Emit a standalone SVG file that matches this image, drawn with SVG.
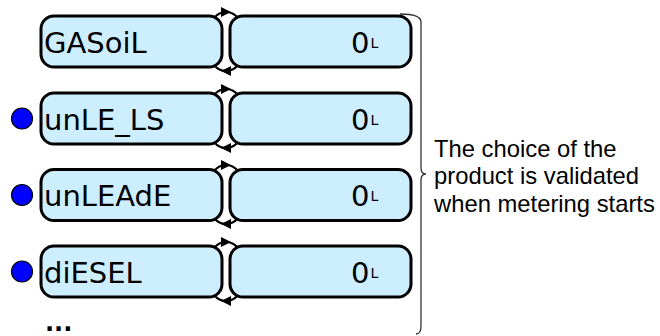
<svg xmlns="http://www.w3.org/2000/svg" width="660" height="336" viewBox="0 0 660 336">
<style>
.box{fill:#cceeff;stroke:#000;stroke-width:3}
.lbl{font-family:"DejaVu Sans",sans-serif;font-size:29px;fill:#000}
.unit{font-size:14px}
.dot{fill:#0000ff;stroke:#000;stroke-width:1.2}
.con{fill:none;stroke:#000;stroke-width:2}
.note{font-family:"Liberation Sans",Arial,sans-serif;font-size:23.8px;fill:#000}
.brace{fill:none;stroke:#333;stroke-width:1.3}
</style>
<defs>
<marker id="ah" viewBox="0 0 10 10" refX="5" refY="5" markerWidth="11" markerHeight="10" markerUnits="userSpaceOnUse" orient="auto">
<path d="M0,0 L10,5 L0,10 z" fill="#000"/>
</marker>
</defs>
<rect width="660" height="336" fill="#fff"/>
<g id="connectors">
<path class="con" marker-mid="url(#ah)" d="M214,18 Q219,12 226,12 Q233,12 238,18"/>
<path class="con" marker-mid="url(#ah)" d="M238,65 Q233,71 226,71 Q219,71 214,65"/>
<path class="con" marker-mid="url(#ah)" d="M214,95 Q219,89 226,89 Q233,89 238,95"/>
<path class="con" marker-mid="url(#ah)" d="M238,142 Q233,148 226,148 Q219,148 214,142"/>
<path class="con" marker-mid="url(#ah)" d="M214,171 Q219,165 226,165 Q233,165 238,171"/>
<path class="con" marker-mid="url(#ah)" d="M238,218 Q233,224 226,224 Q219,224 214,218"/>
<path class="con" marker-mid="url(#ah)" d="M214,248 Q219,242 226,242 Q233,242 238,248"/>
<path class="con" marker-mid="url(#ah)" d="M238,295 Q233,301 226,301 Q219,301 214,295"/>
</g>
<g id="row-gasoil">
<rect class="box" x="41" y="16" width="181" height="51" rx="13"/>
<rect class="box" x="230" y="16" width="181" height="51" rx="13"/>
<text class="lbl" x="44" y="52.5">GASoiL</text>
<text class="lbl" x="351" y="52.5">0<tspan class="unit" dx="1" dy="-5">L</tspan></text>
</g>
<g id="row-unle-ls">
<circle class="dot" cx="22" cy="118.5" r="10.5"/>
<rect class="box" x="41" y="93" width="181" height="51" rx="13"/>
<rect class="box" x="230" y="93" width="181" height="51" rx="13"/>
<text class="lbl" x="44" y="129.5">unLE_LS</text>
<text class="lbl" x="351" y="129.5">0<tspan class="unit" dx="1" dy="-5">L</tspan></text>
</g>
<g id="row-unleade">
<circle class="dot" cx="22" cy="195" r="10.5"/>
<rect class="box" x="41" y="169.5" width="181" height="51" rx="13"/>
<rect class="box" x="230" y="169.5" width="181" height="51" rx="13"/>
<text class="lbl" x="44" y="206">unLEAdE</text>
<text class="lbl" x="351" y="206">0<tspan class="unit" dx="1" dy="-5">L</tspan></text>
</g>
<g id="row-diesel">
<circle class="dot" cx="22" cy="271.5" r="10.5"/>
<rect class="box" x="41" y="246" width="181" height="51" rx="13"/>
<rect class="box" x="230" y="246" width="181" height="51" rx="13"/>
<text class="lbl" x="44" y="282.5">diESEL</text>
<text class="lbl" x="351" y="282.5">0<tspan class="unit" dx="1" dy="-5">L</tspan></text>
</g>
<g id="more">
<text class="lbl" x="45" y="331" style="font-size:24px;font-weight:bold">...</text>
</g>
<g id="note">
<path class="brace" d="M400,14 Q421,14 421,22 L421,168 Q421,174 426,174 Q421,174 421,180 L421,326 Q421,334 416,334"/>
<text class="note" x="434" y="156.5">The choice of the</text>
<text class="note" x="434" y="184">product is validated</text>
<text class="note" x="434" y="211.5">when metering starts</text>
</g>
</svg>
